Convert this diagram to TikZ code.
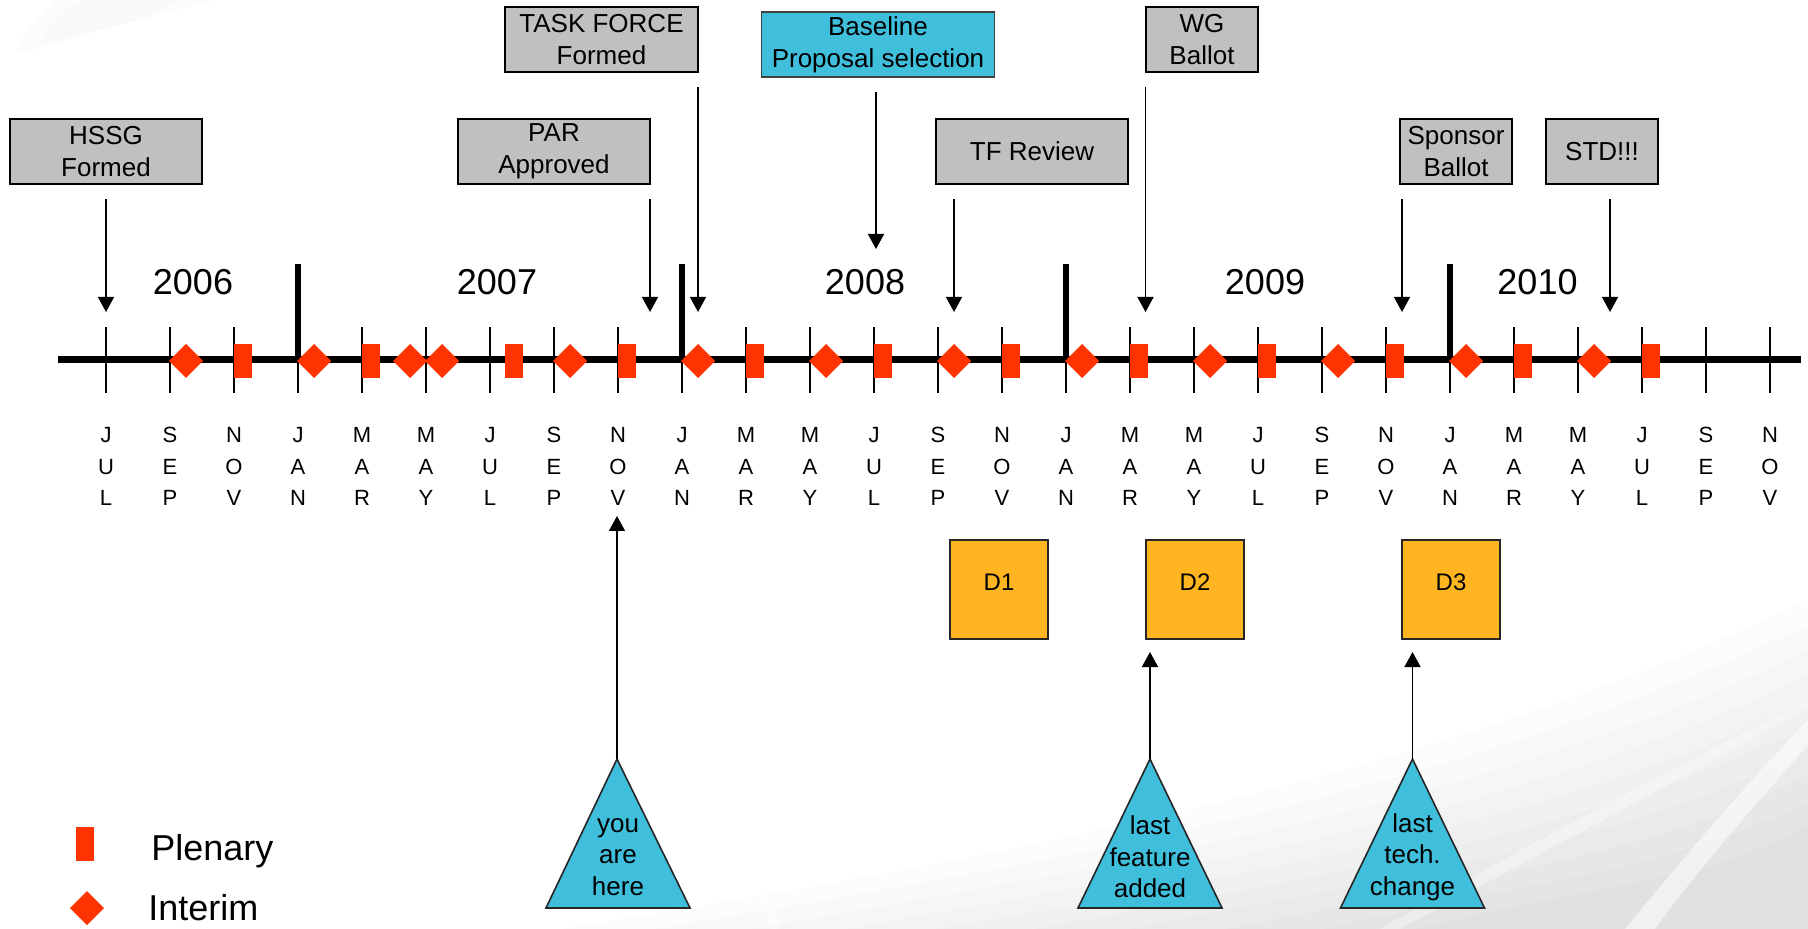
\documentclass[tikz,border=0pt]{standalone}
\usepackage{fontspec}
\setmainfont{Liberation Sans}
\usetikzlibrary{arrows.meta}
\definecolor{mred}{HTML}{FF3300}
\definecolor{boxgray}{HTML}{C0C0C0}
\definecolor{skyc}{HTML}{40BFDD}
\definecolor{dorange}{HTML}{FFB521}
\tikzset{
  graybox/.style={draw=black, line width=1.1pt, fill=boxgray, inner sep=0pt, align=center, font=\fontsize{13}{16}\selectfont, minimum height=32.5pt},
  cyanbox/.style={draw=black!75, line width=0.6pt, fill=skyc, inner sep=0pt, align=center, font=\fontsize{13}{16}\selectfont, minimum height=32.5pt},
  dbox/.style={draw=black!85, line width=0.8pt, fill=dorange, inner sep=0pt, minimum width=49pt, minimum height=49.5pt, font=\fontsize{12}{14}\selectfont, text height=5pt, text depth=3.9pt},
  arr/.style={line width=0.75pt, -{Triangle[width=8pt,length=7.5pt]}},
  tick/.style={line width=1pt},
  yearbar/.style={line width=3pt},
  yearlbl/.style={font=\fontsize{18}{20}\selectfont, inner sep=0pt},
  monlbl/.style={font=\fontsize{11}{15.75}\selectfont, align=center, inner sep=0pt},
  tri/.style={draw=black!85, line width=0.8pt, fill=skyc, line join=miter},
  tritext/.style={font=\fontsize{13}{15.85}\selectfont, align=center, inner sep=0pt},
  legtext/.style={font=\fontsize{18}{20}\selectfont, anchor=base west, inner sep=0pt},
  swoosh/.style={fill=black, draw=none},
}
\begin{document}
\begin{tikzpicture}[x=0.5pt,y=-0.5pt]
\useasboundingbox (0,0) rectangle (1808,929);
\fill[white] (0,0) rectangle (1808,929);

% faint background swooshes (soft layered gradient)
\fill[swoosh, opacity=0.012] (15,55) .. controls (110,25) and (190,8) .. (215,0) -- (55,0) .. controls (35,20) and (20,38) .. cycle;
\fill[swoosh, opacity=0.012] (40,45) .. controls (110,30) and (160,15) .. (180,0) -- (80,0) .. controls (60,18) and (45,30) .. cycle;
\foreach \k in {0,...,9}
  \fill[swoosh, opacity=0.013] (560+95*\k,929) .. controls (1050+60*\k,850+4*\k) and (1450+30*\k,770+12*\k) .. (1808,600+25*\k) -- (1808,929) -- cycle;
\fill[white, opacity=0.55] (1625,929) .. controls (1690,850) and (1750,780) .. (1808,720) -- (1808,745) .. controls (1760,800) and (1705,860) .. (1655,929) -- cycle;
\fill[white, opacity=0.35] (1380,929) .. controls (1500,860) and (1650,780) .. (1808,700) -- (1808,708) .. controls (1660,790) and (1520,865) .. (1400,929) -- cycle;
\fill[white, opacity=0.4] (770,929) .. controls (760,900) and (750,880) .. (740,860) -- (745,860) .. controls (758,880) and (770,905) .. (780,929) -- cycle;

% timeline
\coordinate (tlL) at (58,360);
\coordinate (tlR) at (1801,360);
\draw[line width=3.5pt] (tlL) -- (tlR);
\foreach \i in {0,...,26}
  \draw[tick] (106+64*\i,327) -- (106+64*\i,393);
\foreach \i in {3,9,15,21}
  \draw[yearbar] (106+64*\i,264) -- (106+64*\i,360);

% month labels
\foreach \a/\b/\c [count=\i from 0] in {J/U/L,S/E/P,N/O/V,J/A/N,M/A/R,M/A/Y,J/U/L,S/E/P,N/O/V,J/A/N,M/A/R,M/A/Y,J/U/L,S/E/P,N/O/V,J/A/N,M/A/R,M/A/Y,J/U/L,S/E/P,N/O/V,J/A/N,M/A/R,M/A/Y,J/U/L,S/E/P,N/O/V}
  \node[monlbl] (m\i) at (106+64*\i,466.5) {\a\\\b\\\c};

% years
\node[yearlbl] (y2006) at (193,282) {2006};
\node[yearlbl] (y2007) at (497,282) {2007};
\node[yearlbl] (y2008) at (865,282) {2008};
\node[yearlbl] (y2009) at (1265,282) {2009};
\node[yearlbl] (y2010) at (1537.5,282) {2010};

% markers
\foreach \c in {186,314,410,442,570,698,826,954,1082,1210,1338,1466,1594}
  \fill[mred] (\c-17,361) -- (\c,344) -- (\c+17,361) -- (\c,378) -- cycle;
\foreach \l in {234,362,505,618,746,874,1002,1130,1258,1386,1514,1642}
  \fill[mred] (\l,344) rectangle (\l+17.5,378);

% top boxes
\node[graybox, minimum width=96pt] (hssg) at (106,151.5) {HSSG\\Formed};
\node[graybox, minimum width=96pt] (par) at (554,151.5) {PAR\\Approved};
\node[graybox, minimum width=96.5pt] (tforce) at (601.5,39.5) {TASK FORCE\\Formed};
\node[cyanbox, minimum width=116.5pt] (base) at (878,44.5) {Baseline\\Proposal selection};
\node[graybox, minimum width=96pt] (tfr) at (1032,151.5) {TF Review};
\node[graybox, minimum width=56.25pt] (wg) at (1202,39.5) {WG\\Ballot};
\node[graybox, minimum width=56.25pt] (spon) at (1456,151.5) {Sponsor\\Ballot};
\node[graybox, minimum width=56.25pt] (std) at (1602,151.5) {STD!!!};

% top arrows
\coordinate (hssgA) at (106,199);   \coordinate (hssgB) at (106,312);
\coordinate (parA) at (650,199);    \coordinate (parB) at (650,312);
\coordinate (tforceA) at (698,87);  \coordinate (tforceB) at (698,312);
\coordinate (baseA) at (876,92);    \coordinate (baseB) at (876,249);
\coordinate (tfrA) at (954,199);    \coordinate (tfrB) at (954,312);
\coordinate (wgA) at (1145.5,87);   \coordinate (wgB) at (1145.5,312);
\coordinate (sponA) at (1402,199);  \coordinate (sponB) at (1402,312);
\coordinate (stdA) at (1610,199);   \coordinate (stdB) at (1610,312);
\foreach \n in {hssg,par,tforce,base,tfr,wg,spon,std}
  \draw[arr] (\n A) -- (\n B);

% D boxes
\node[dbox] (d1) at (999,589.5) {D1};
\node[dbox] (d2) at (1195,589.5) {D2};
\node[dbox] (d3) at (1451,589.5) {D3};

% triangles
\coordinate (yahApex) at (617,759);
\filldraw[tri] (yahApex) -- (690,908) -- (546,908) -- cycle;
\node[tritext] (yah) at (618,857) {you\\are\\here};
\coordinate (yahTip) at (617,516);
\draw[arr] (yahApex) -- (yahTip);

\coordinate (lfApex) at (1150,759);
\filldraw[tri] (lfApex) -- (1222,908) -- (1078,908) -- cycle;
\node[tritext] (lf) at (1150,857) {last\\feature\\added};
\coordinate (lfTip) at (1150,652);
\draw[arr] (lfApex) -- (lfTip);

\coordinate (ltApex) at (1412.5,759);
\filldraw[tri] (ltApex) -- (1484.5,908) -- (1340.5,908) -- cycle;
\node[tritext] (lt) at (1412.5,857) {last\\tech.\\change};
\coordinate (ltTip) at (1412.5,652);
\draw[arr] (ltApex) -- (ltTip);

% legend
\fill[mred] (76,827) rectangle (94,861);
\node[legtext] (plen) at (151,860) {Plenary};
\fill[mred] (70,908) -- (87,891) -- (104,908) -- (87,925) -- cycle;
\node[legtext] (inter) at (148,920) {Interim};
\end{tikzpicture}
\end{document}
